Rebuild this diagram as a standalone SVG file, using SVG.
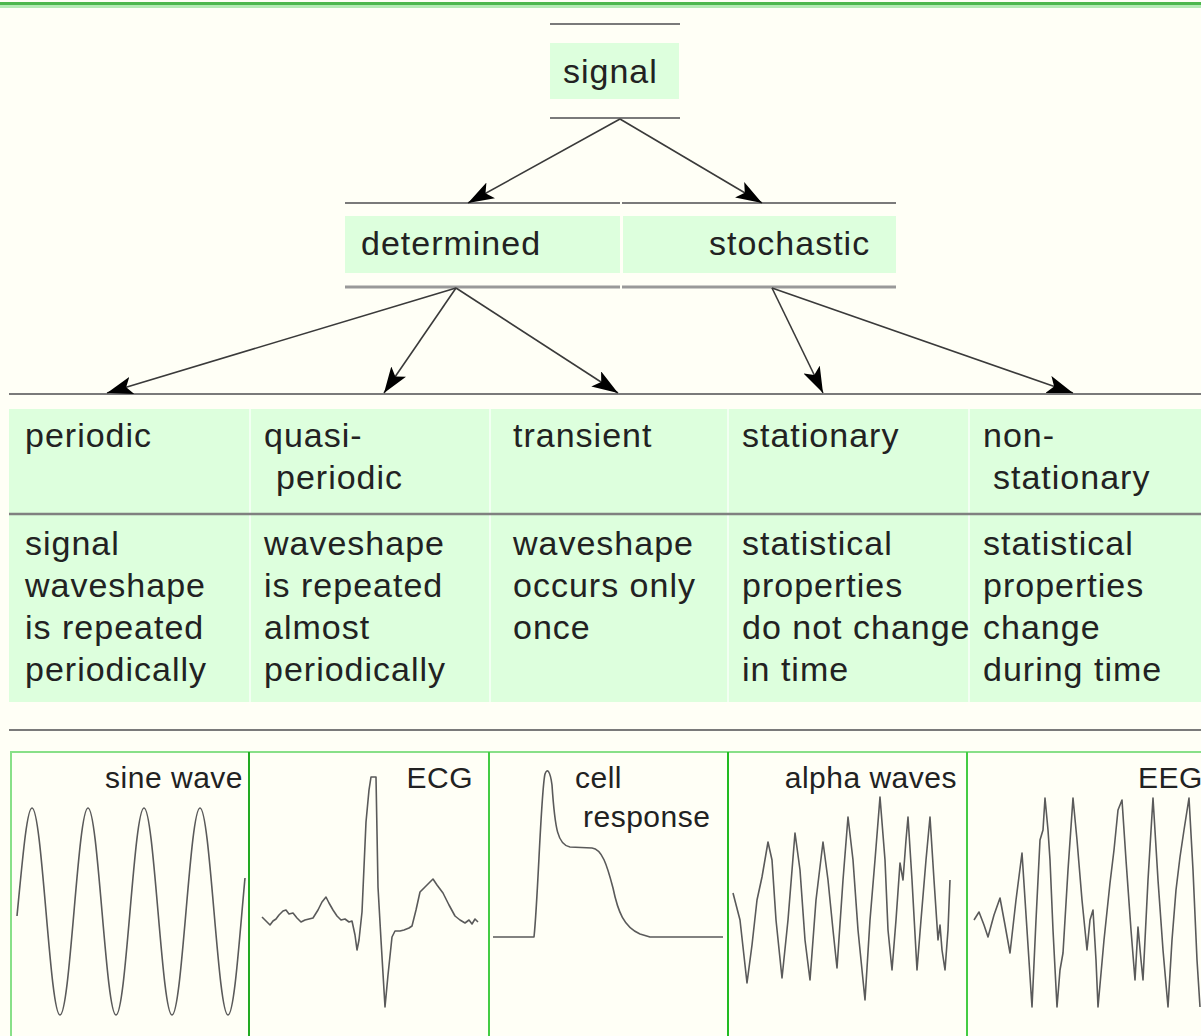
<svg xmlns="http://www.w3.org/2000/svg" width="1201" height="1036" viewBox="0 0 1201 1036">
<defs>
<style>
.t{font-family:"Liberation Sans",Arial,sans-serif;font-size:34px;letter-spacing:1px;fill:#222}
.lb{font-family:"Liberation Sans",Arial,sans-serif;font-size:30px;letter-spacing:0.5px;fill:#222}
.box{fill:#DDFFDD}
.rule{stroke:#7a7a7a;stroke-width:2;fill:none}
.conn{stroke:#3a3a3a;stroke-width:1.6;fill:none;marker-end:url(#ah)}
.wave{stroke:#5a5a5a;stroke-width:1.6;fill:none;stroke-linejoin:round}
.cdiv{stroke:#F2FFF2;stroke-width:2}
.pl{stroke:#88E088;stroke-width:2;fill:none}
</style>
<marker id="ah" viewBox="0 0 26 18" refX="26" refY="9" markerWidth="26" markerHeight="18" markerUnits="userSpaceOnUse" orient="auto">
<path d="M0,0 L26,9 L0,18 L6,9 Z" fill="#000"/>
</marker>
</defs>
<rect x="0" y="0" width="1201" height="1036" fill="#FFFFF6"/>
<rect x="0" y="2" width="1201" height="3" fill="#4DB84D"/>
<rect x="0" y="5" width="1201" height="3" fill="#B5EBB5"/>

<g id="signal">
<line class="rule" x1="550" y1="24" x2="680" y2="24"/>
<rect class="box" x="550" y="43" width="129" height="56"/>
<line class="rule" x1="550" y1="118" x2="680" y2="118"/>
<text class="t" x="563" y="83">signal</text>
</g>

<g id="determined">
<line class="rule" x1="345" y1="203" x2="620" y2="203"/>
<rect class="box" x="345" y="216" width="275" height="57"/>
<line x1="345" y1="287" x2="620" y2="287" stroke="#999" stroke-width="3"/>
<text class="t" x="361" y="255">determined</text>
</g>

<g id="stochastic">
<line class="rule" x1="622" y1="203" x2="896" y2="203"/>
<rect class="box" x="623" y="216" width="273" height="57"/>
<line x1="622" y1="287" x2="896" y2="287" stroke="#999" stroke-width="3"/>
<text class="t" x="709" y="255">stochastic</text>
</g>

<g id="table-frame">
<line class="rule" x1="9" y1="394" x2="1201" y2="394"/>
<rect class="box" x="9" y="409" width="1192" height="293"/>
<line class="cdiv" x1="250" y1="409" x2="250" y2="702"/>
<line class="cdiv" x1="490" y1="409" x2="490" y2="702"/>
<line class="cdiv" x1="728" y1="409" x2="728" y2="702"/>
<line class="cdiv" x1="969" y1="409" x2="969" y2="702"/>
<line x1="9" y1="514" x2="1201" y2="514" stroke="#808080" stroke-width="2.5"/>
<line class="rule" x1="9" y1="730" x2="1201" y2="730"/>
</g>

<g id="periodic">
<text class="t" x="25" y="447">periodic</text>
<text class="t" x="25"><tspan x="25" y="555">signal</tspan><tspan x="25" y="597">waveshape</tspan><tspan x="25" y="639">is repeated</tspan><tspan x="25" y="681">periodically</tspan></text>
</g>
<g id="quasi-periodic">
<text class="t"><tspan x="264" y="447">quasi-</tspan><tspan x="276" y="489">periodic</tspan></text>
<text class="t"><tspan x="264" y="555">waveshape</tspan><tspan x="264" y="597">is repeated</tspan><tspan x="264" y="639">almost</tspan><tspan x="264" y="681">periodically</tspan></text>
</g>
<g id="transient">
<text class="t" x="513" y="447">transient</text>
<text class="t"><tspan x="513" y="555">waveshape</tspan><tspan x="513" y="597">occurs only</tspan><tspan x="513" y="639">once</tspan></text>
</g>
<g id="stationary">
<text class="t" x="742" y="447">stationary</text>
<text class="t"><tspan x="742" y="555">statistical</tspan><tspan x="742" y="597">properties</tspan><tspan x="742" y="639">do not change</tspan><tspan x="742" y="681">in time</tspan></text>
</g>
<g id="non-stationary">
<text class="t"><tspan x="983" y="447">non-</tspan><tspan x="993" y="489">stationary</tspan></text>
<text class="t"><tspan x="983" y="555">statistical</tspan><tspan x="983" y="597">properties</tspan><tspan x="983" y="639">change</tspan><tspan x="983" y="681">during time</tspan></text>
</g>

<g id="connectors">
<line class="conn" x1="620" y1="119" x2="468" y2="203"/>
<line class="conn" x1="620" y1="119" x2="762" y2="203"/>
<line class="conn" x1="456" y1="288" x2="107" y2="393"/>
<line class="conn" x1="456" y1="288" x2="384" y2="393"/>
<line class="conn" x1="456" y1="288" x2="618" y2="393"/>
<line class="conn" x1="772" y1="288" x2="823" y2="393"/>
<line class="conn" x1="772" y1="288" x2="1073" y2="393"/>
</g>

<g id="panels">
<line class="pl" x1="10" y1="752" x2="1201" y2="752"/>
<line class="pl" x1="11" y1="752" x2="11" y2="1036"/>
<line x1="249" y1="752" x2="249" y2="1036" stroke="#22AA22" stroke-width="2"/>
<line x1="489" y1="752" x2="489" y2="1036" stroke="#44CC44" stroke-width="2"/>
<line x1="728" y1="752" x2="728" y2="1036" stroke="#22BB22" stroke-width="2"/>
<line x1="967" y1="752" x2="967" y2="1036" stroke="#44CC44" stroke-width="2"/>
</g>

<g id="sine-wave">
<text class="lb" x="243" y="788" text-anchor="end">sine wave</text>
<path class="wave" d="M17,916 C22.56,858.5 26.93,808 32,808 S41.44,858.5 46,911.5 S54.93,1015 60,1015 S69.44,964.5 74,911.5 S82.93,808 88,808 S97.44,858.5 102,911.5 S110.93,1015 116,1015 S125.44,964.5 130,911.5 S138.93,808 144,808 S153.44,858.5 158,911.5 S166.93,1015 172,1015 S181.44,964.5 186,911.5 S194.93,808 200,808 S209.44,858.5 214,911.5 S222.93,1015 228,1015 S237.44,964.5 242,911.5 S244,890 245,878"/>
</g>

<g id="ecg">
<text class="lb" x="473" y="788" text-anchor="end">ECG</text>
<polyline class="wave" points="262,917 266,921 270,925 273,921 276,919 279,915 283,911 286,910 289,914 293,913 297,918 301,922 305,920 309,919 313,918 318,910 322,902 326,897 329,903 333,910 337,916 341,920 345,919 349,922 352,921 355,935 357,950 359,940 362,912 366,822 369,790 371,777 374,777 376,777 378,887 381,940 385,1007 388,975 392,937 395,931 400,931 404,930 409,928 412,926 416,910 420,892 425,887 429,883 433,879 437,885 443,893 449,905 455,916 460,920 465,923 469,920 472,924 475,919 478,922"/>
</g>

<g id="cell-response">
<text class="lb" x="575" y="788">cell</text>
<text class="lb" x="583" y="827">response</text>
<path class="wave" d="M493,937 L534,937 C538,900 541,790 545,774 C547,768 550,770 552,785 C555,830 558,845 570,847 L592,848 C602,849 607,865 613,888 C618,912 624,927 640,934 L650,937 L723,937"/>
</g>

<g id="alpha-waves">
<text class="lb" x="957" y="788" text-anchor="end">alpha waves</text>
<polyline class="wave" points="733,893 740,920 747,983 752,945 757,900 762,877 768,842 772,860 776,920 782,978 788,920 795,833 800,870 805,940 810,980 816,900 823,842 828,880 833,930 837,968 843,880 848,817 853,860 858,930 865,1000 870,920 875,860 880,797 885,860 888,930 892,970 896,920 900,863 903,880 906,840 908,817 912,880 917,970 921,920 926,860 930,817 934,880 938,940 940,925 942,950 945,970 948,930 950,880"/>
</g>

<g id="eeg">
<text class="lb" x="1138" y="788">EEG</text>
<polyline class="wave" points="974,920 979,912 984,925 988,937 994,915 1000,898 1005,925 1010,953 1016,900 1022,853 1027,930 1032,1007 1036,920 1040,840 1043,830 1045,798 1048,830 1050,860 1053,930 1057,1007 1060,970 1063,953 1068,870 1073,798 1077,840 1082,900 1087,950 1090,920 1093,910 1096,960 1098,1007 1104,940 1110,883 1114,850 1118,810 1122,800 1126,860 1131,930 1135,980 1138,927 1141,960 1143,980 1148,880 1153,798 1158,880 1163,950 1168,1007 1172,940 1176,890 1180,857 1184,830 1189,798 1193,870 1197,960 1200,1007"/>
</g>
</svg>
